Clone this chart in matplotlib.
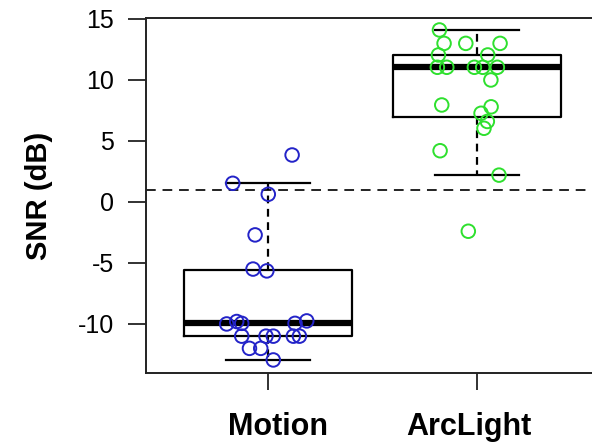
import numpy as np
import matplotlib
matplotlib.use("Agg")
import matplotlib.pyplot as plt
from matplotlib.transforms import ScaledTranslation

plt.rcParams['font.family'] = ['Liberation Sans', 'DejaVu Sans']

categories = ["Motion", "ArcLight"]

motion_snr = [3.85, 1.53, 0.63, -2.7, -5.5, -5.65, -10.0, -9.8, -9.95, -9.95,
              -9.75, -11.0, -11.0, -11.0, -11.0, -11.0, -12.0, -12.0, -12.95]
motion_jitter = [0.115, -0.169, 0.001, -0.062, -0.072, -0.006, -0.198, -0.150, -0.126, 0.129,
                 0.185, -0.126, -0.010, 0.025, 0.121, 0.150, -0.089, -0.035, 0.025]

arclight_snr = [14.1, 13.0, 13.0, 13.0, 12.05, 12.05, 11.04, 11.04, 11.04, 11.04,
                11.04, 10.0, 7.95, 7.8, 7.27, 6.6, 6.04, 4.2, 2.2, -2.4]
arclight_jitter = [-0.180, -0.158, -0.054, 0.110, -0.185, 0.051, -0.190, -0.145, -0.013, 0.027,
                   0.097, 0.066, -0.169, 0.067, 0.019, 0.049, 0.033, -0.177, 0.105, -0.042]

threshold = 1.0
yticks = [-10, -5, 0, 5, 10, 15]
colors = ["#2323C8", "#2EE02E"]


def tukey_stats(vals, label):
    x = np.sort(np.asarray(vals, float))
    n = len(x)
    n4 = np.floor((n + 3) / 2) / 2
    d = np.array([1, n4, (n + 1) / 2, n + 1 - n4, n])
    q = 0.5 * (x[np.floor(d - 1).astype(int)] + x[np.ceil(d - 1).astype(int)])
    q1, med, q3 = q[1], q[2], q[3]
    iqr = q3 - q1
    lo = x[x >= q1 - 1.5 * iqr].min()
    hi = x[x <= q3 + 1.5 * iqr].max()
    return dict(med=med, q1=q1, q3=q3, whislo=lo, whishi=hi, fliers=[], label=label)


fig = plt.figure(figsize=(5.92, 4.47), dpi=100)
ax = fig.add_axes([146 / 592, 1 - 373 / 447, 456.5 / 592, 355 / 447])

stats = [tukey_stats(motion_snr, categories[0]), tukey_stats(arclight_snr, categories[1])]
ax.bxp(stats, positions=[1, 2], widths=0.8, showfliers=False,
       boxprops=dict(color='black', linewidth=1.6),
       medianprops=dict(color='black', linewidth=4.5, solid_capstyle='butt'),
       whiskerprops=dict(color='black', linewidth=1.6, linestyle=(0, (3.5, 2.5))),
       capprops=dict(color='black', linewidth=1.6), capwidths=0.4)

ax.axhline(threshold, color='#222222', linewidth=1.4, linestyle=(0, (5, 3.5)), zorder=1)

for i, (vals, jit) in enumerate([(motion_snr, motion_jitter), (arclight_snr, arclight_jitter)]):
    xs = (i + 1) + np.asarray(jit)
    ax.scatter(xs, vals, s=95, facecolors='none', edgecolors=colors[i],
               linewidths=1.4, zorder=3)

ax.set_xlim(0.416, 2.6)
ax.set_ylim(-14.02, 15.08)
ax.set_xticks([1, 2])
ax.set_xticklabels(categories, fontsize=22, fontweight='bold')
ax.set_yticks(yticks)
ax.set_yticklabels([str(v) for v in yticks], fontsize=18)
ax.tick_params(axis='y', length=13, width=1.3, pad=10, color='#222222')
ax.tick_params(axis='x', length=12, width=1.3, pad=16, color='#222222')
ax.set_ylabel("SNR (dB)", fontsize=21, fontweight='bold', labelpad=18)

# labels in the reference sit slightly off their tick marks
for lab, dx in zip(ax.get_xticklabels(), [10, -8.5]):
    lab.set_transform(lab.get_transform() + ScaledTranslation(dx / 100, 0, fig.dpi_scale_trans))

for sp in ax.spines.values():
    sp.set_linewidth(1.4)
    sp.set_color('#222222')

fig.savefig("out.png", dpi=100)
